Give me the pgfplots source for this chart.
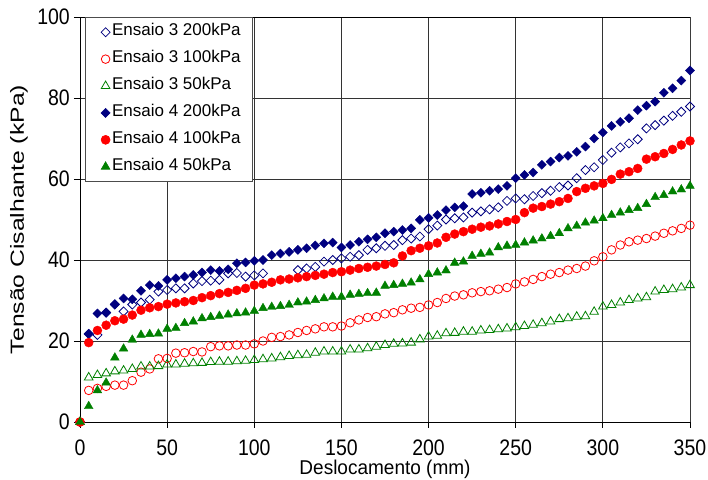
\documentclass[border=0pt]{standalone}
\usepackage{fontspec}
\setmainfont{Liberation Sans}
\usepackage{pgfplots}
\pgfplotsset{compat=1.18}
\usetikzlibrary{calc}
\definecolor{navy}{RGB}{0,0,128}
\definecolor{xlred}{RGB}{255,0,0}
\definecolor{xlgreen}{RGB}{0,128,0}
\begin{document}
\begin{tikzpicture}
\begin{axis}[
  scale only axis,
  width=610bp, height=405bp,
  xmin=0, xmax=350, ymin=0, ymax=100,
  xtick={0,50,...,350}, ytick={0,20,...,100},
  /pgf/number format/assume math mode=true,
  tick label style={font=\fontsize{19.5bp}{22bp}\selectfont, yscale=1.15, inner sep=1bp},
  label style={font=\fontsize{19bp}{22bp}\selectfont, inner sep=1bp},
  xlabel={Deslocamento (mm)},
  ylabel={Tensão Cisalhante (kPa)},
  xlabel style={at={(axis description cs:0.5,0)}, anchor=center, yshift=-47bp, yscale=1.05},
  ylabel style={at={(axis description cs:-0.1,0.5)}, anchor=center, xscale=1.3},
  grid=major,
  major grid style={line width=0.8bp, draw=black!80},
  axis line style={line width=0.9bp, draw=black},
  axis x line*=bottom, axis y line*=left,
  tick align=outside, tick pos=left,
  major tick length=6bp,
  tick style={line width=0.8bp, black},
  xticklabel style={yshift=-9bp},
  yticklabel style={xshift=-3bp},
  legend style={at={(axis description cs:0,1)}, anchor=north west, xshift=5bp,
    font=\fontsize{17bp}{20bp}\selectfont, draw=black!70, line width=0.6bp,
    fill=white, row sep=0pt, inner xsep=10bp, inner ysep=1.5bp,
    nodes={text height=12bp, text depth=4.5bp, inner ysep=5.2bp, inner xsep=2bp}},
  legend cell align=left,
  legend image code/.code={\path (0bp,0bp) (14bp,0bp); \draw plot coordinates {(10bp,0bp)};},
]
% top and right borders
\draw[line width=0.9bp, black] (axis cs:0,100) -- (axis cs:350,100);
\draw[line width=0.9bp, black!55] (axis cs:350,0) -- (axis cs:350,100);
% Ensaio 3 200kPa
\addplot[only marks, mark=square, mark size=3.2bp, mark options={rotate=45, draw=navy, line width=0.8bp, fill=white}] coordinates {
(0,0)(5,21.7)(10,21.5)(15,27.0)(20,29.0)(25,27.3)(30,29.0)(35,29.5)(40,30.2)(45,32.2)(50,32.6)(55,33.0)(60,33.0)(65,34.2)(70,34.8)(75,34.9)(80,35.1)(85,36.7)(90,36.8)(95,35.9)(100,36.2)(105,36.7)
(125,37.5)(130,37.9)(135,38.3)(140,39.6)(145,40.0)(150,40.4)(155,40.8)(160,41.2)(165,42.5)(170,42.9)(175,43.5)(180,43.7)(185,44.9)(190,45.3)(195,45.8)(200,47.6)(205,48.5)(210,50.0)(215,50.3)(220,50.5)(225,51.7)(230,52.0)(235,52.5)(240,53.0)(245,54.6)(250,55.2)(255,55.0)(260,55.8)(265,56.5)(270,57.1)(275,58.0)(280,58.4)(285,60.2)(290,62.2)(295,62.9)(300,64.7)(305,66.5)(310,67.8)(315,68.8)(320,69.8)(325,72.5)(330,73.3)(335,74.4)(340,75.6)(345,76.6)(350,77.9)
};
\addlegendentry{Ensaio 3 200kPa}
% Ensaio 3 100kPa
\addplot[only marks, mark=o, mark size=4.3bp, mark options={draw=xlred, line width=0.8bp, fill=white}] coordinates {
(0,0)(5,7.8)(10,8.3)(15,8.8)(20,9.1)(25,9.1)(30,10.2)(35,12.3)(40,13.1)(45,15.6)(50,15.7)(55,17.0)(60,17.1)(65,17.4)(70,17.3)(75,18.6)(80,18.8)(85,18.8)(90,19.0)(95,19.0)(100,19.3)(105,20.0)(110,20.9)(115,21.1)(120,21.5)(125,22.1)(130,22.6)(135,23.0)(140,23.5)(145,23.5)(150,23.7)(155,24.5)(160,25.2)(165,25.8)(170,26.0)(175,26.7)(180,27.0)(185,27.7)(190,28.1)(195,28.3)(200,28.9)(205,29.5)(210,30.5)(215,31.1)(220,31.4)(225,31.9)(230,32.2)(235,32.4)(240,32.8)(245,33.2)(250,34.1)(255,34.6)(260,35.2)(265,35.9)(270,36.5)(275,36.9)(280,37.5)(285,37.9)(290,38.5)(295,39.8)(300,40.8)(305,42.5)(310,43.7)(315,44.5)(320,44.9)(325,45.3)(330,45.9)(335,46.6)(340,47.2)(345,47.8)(350,48.6)
};
\addlegendentry{Ensaio 3 100kPa}
% Ensaio 3 50kPa
\addplot[only marks, mark=triangle, mark size=5bp, mark options={draw=xlgreen, line width=0.8bp, fill=white}] coordinates {
(0,0)(5,11.0)(10,11.6)(15,12.0)(20,12.5)(25,12.7)(30,13.1)(35,13.7)(40,13.7)(45,13.8)(50,14.2)(55,14.2)(60,14.4)(65,14.5)(70,14.6)(75,14.8)(80,14.9)(85,14.9)(90,15.0)(95,15.1)(100,15.3)(105,15.5)(110,15.7)(115,16.0)(120,16.3)(125,16.5)(130,16.6)(135,17.1)(140,17.4)(145,17.4)(150,17.4)(155,17.9)(160,17.9)(165,18.2)(170,18.6)(175,19.0)(180,19.3)(185,19.4)(190,19.6)(195,20.4)(200,21.1)(205,21.3)(210,21.9)(215,22.0)(220,22.3)(225,22.3)(230,22.6)(235,22.7)(240,22.9)(245,23.1)(250,23.4)(255,23.7)(260,24.0)(265,24.4)(270,24.8)(275,25.4)(280,25.6)(285,26.0)(290,26.1)(295,27.2)(300,28.5)(305,28.9)(310,29.5)(315,30.1)(320,30.5)(325,30.8)(330,32.2)(335,32.6)(340,32.8)(345,33.2)(350,33.8)
};
\addlegendentry{Ensaio 3 50kPa}
% Ensaio 4 200kPa
\addplot[only marks, mark=square*, mark size=3.2bp, mark options={rotate=45, draw=navy, fill=navy}] coordinates {
(0,0)(5,21.8)(10,26.8)(15,27.0)(20,29.1)(25,30.5)(30,30.3)(35,32.4)(40,33.8)(45,33.6)(50,35.1)(55,35.5)(60,35.9)(65,36.3)(70,36.9)(75,37.5)(80,37.3)(85,37.7)(90,39.2)(95,39.4)(100,39.8)(105,40.0)(110,41.2)(115,41.6)(120,42.0)(125,42.5)(130,42.9)(135,43.6)(140,44.1)(145,44.3)(150,43.1)(155,43.7)(160,44.5)(165,45.1)(170,45.6)(175,46.6)(180,47.0)(185,47.4)(190,47.8)(195,49.9)(200,50.4)(205,51.1)(210,52.3)(215,53.0)(220,53.3)(225,56.3)(230,56.6)(235,57.1)(240,57.5)(245,58.3)(250,60.2)(255,61.0)(260,61.6)(265,63.5)(270,64.3)(275,65.3)(280,65.7)(285,66.7)(290,68.0)(295,70.0)(300,71.5)(305,73.1)(310,74.1)(315,75.0)(320,77.0)(325,78.1)(330,79.1)(335,81.3)(340,82.4)(345,84.3)(350,86.8)
};
\addlegendentry{Ensaio 4 200kPa}
% Ensaio 4 100kPa
\addplot[only marks, mark=*, mark size=4.5bp, mark options={draw=xlred, fill=xlred}] coordinates {
(0,0)(5,19.6)(10,22.6)(15,23.9)(20,25.0)(25,25.4)(30,26.4)(35,27.6)(40,28.2)(45,28.5)(50,29.1)(55,29.4)(60,29.7)(65,30.0)(70,30.7)(75,31.2)(80,31.7)(85,32.0)(90,32.5)(95,33.0)(100,33.8)(105,34.1)(110,34.5)(115,35.1)(120,35.3)(125,35.6)(130,35.9)(135,36.2)(140,36.5)(145,36.9)(150,37.1)(155,37.5)(160,37.9)(165,38.2)(170,38.5)(175,38.9)(180,39.3)(185,41.0)(190,42.3)(195,42.9)(200,43.5)(205,44.2)(210,45.6)(215,46.4)(220,47.0)(225,47.6)(230,48.1)(235,48.4)(240,48.9)(245,49.5)(250,50.0)(255,51.7)(260,52.8)(265,53.2)(270,53.8)(275,54.4)(280,55.2)(285,56.9)(290,57.7)(295,58.3)(300,58.9)(305,59.9)(310,61.2)(315,61.8)(320,62.6)(325,64.9)(330,65.5)(335,66.3)(340,67.3)(345,68.4)(350,69.4)
};
\addlegendentry{Ensaio 4 100kPa}
% Ensaio 4 50kPa
\addplot[only marks, mark=triangle*, mark size=5bp, mark options={draw=xlgreen, fill=xlgreen}] coordinates {
(0,0)(5,3.9)(10,7.8)(15,9.7)(20,15.9)(25,18.1)(30,20.3)(35,21.5)(40,21.7)(45,21.8)(50,23.0)(55,23.2)(60,24.4)(65,24.8)(70,25.6)(75,25.9)(80,26.2)(85,26.5)(90,26.8)(95,27.0)(100,27.4)(105,28.1)(110,28.4)(115,28.6)(120,28.9)(125,29.5)(130,29.7)(135,30.1)(140,30.5)(145,30.9)(150,30.9)(155,31.4)(160,31.6)(165,31.8)(170,31.9)(175,33.6)(180,33.8)(185,34.1)(190,34.4)(195,35.2)(200,36.5)(205,36.9)(210,37.4)(215,39.3)(220,39.6)(225,41.0)(230,41.5)(235,41.8)(240,43.1)(245,43.5)(250,43.7)(255,44.3)(260,44.8)(265,45.3)(270,45.9)(275,46.6)(280,47.8)(285,48.4)(290,49.2)(295,49.7)(300,50.3)(305,51.1)(310,51.7)(315,52.3)(320,52.8)(325,53.8)(330,55.5)(335,56.0)(340,56.9)(345,57.4)(350,58.3)
};
\addlegendentry{Ensaio 4 50kPa}
\end{axis}
\path ($(current axis.south west)+(-80bp,-57bp)$) rectangle ($(current axis.north east)+(18bp,17bp)$);
\end{tikzpicture}
\end{document}
